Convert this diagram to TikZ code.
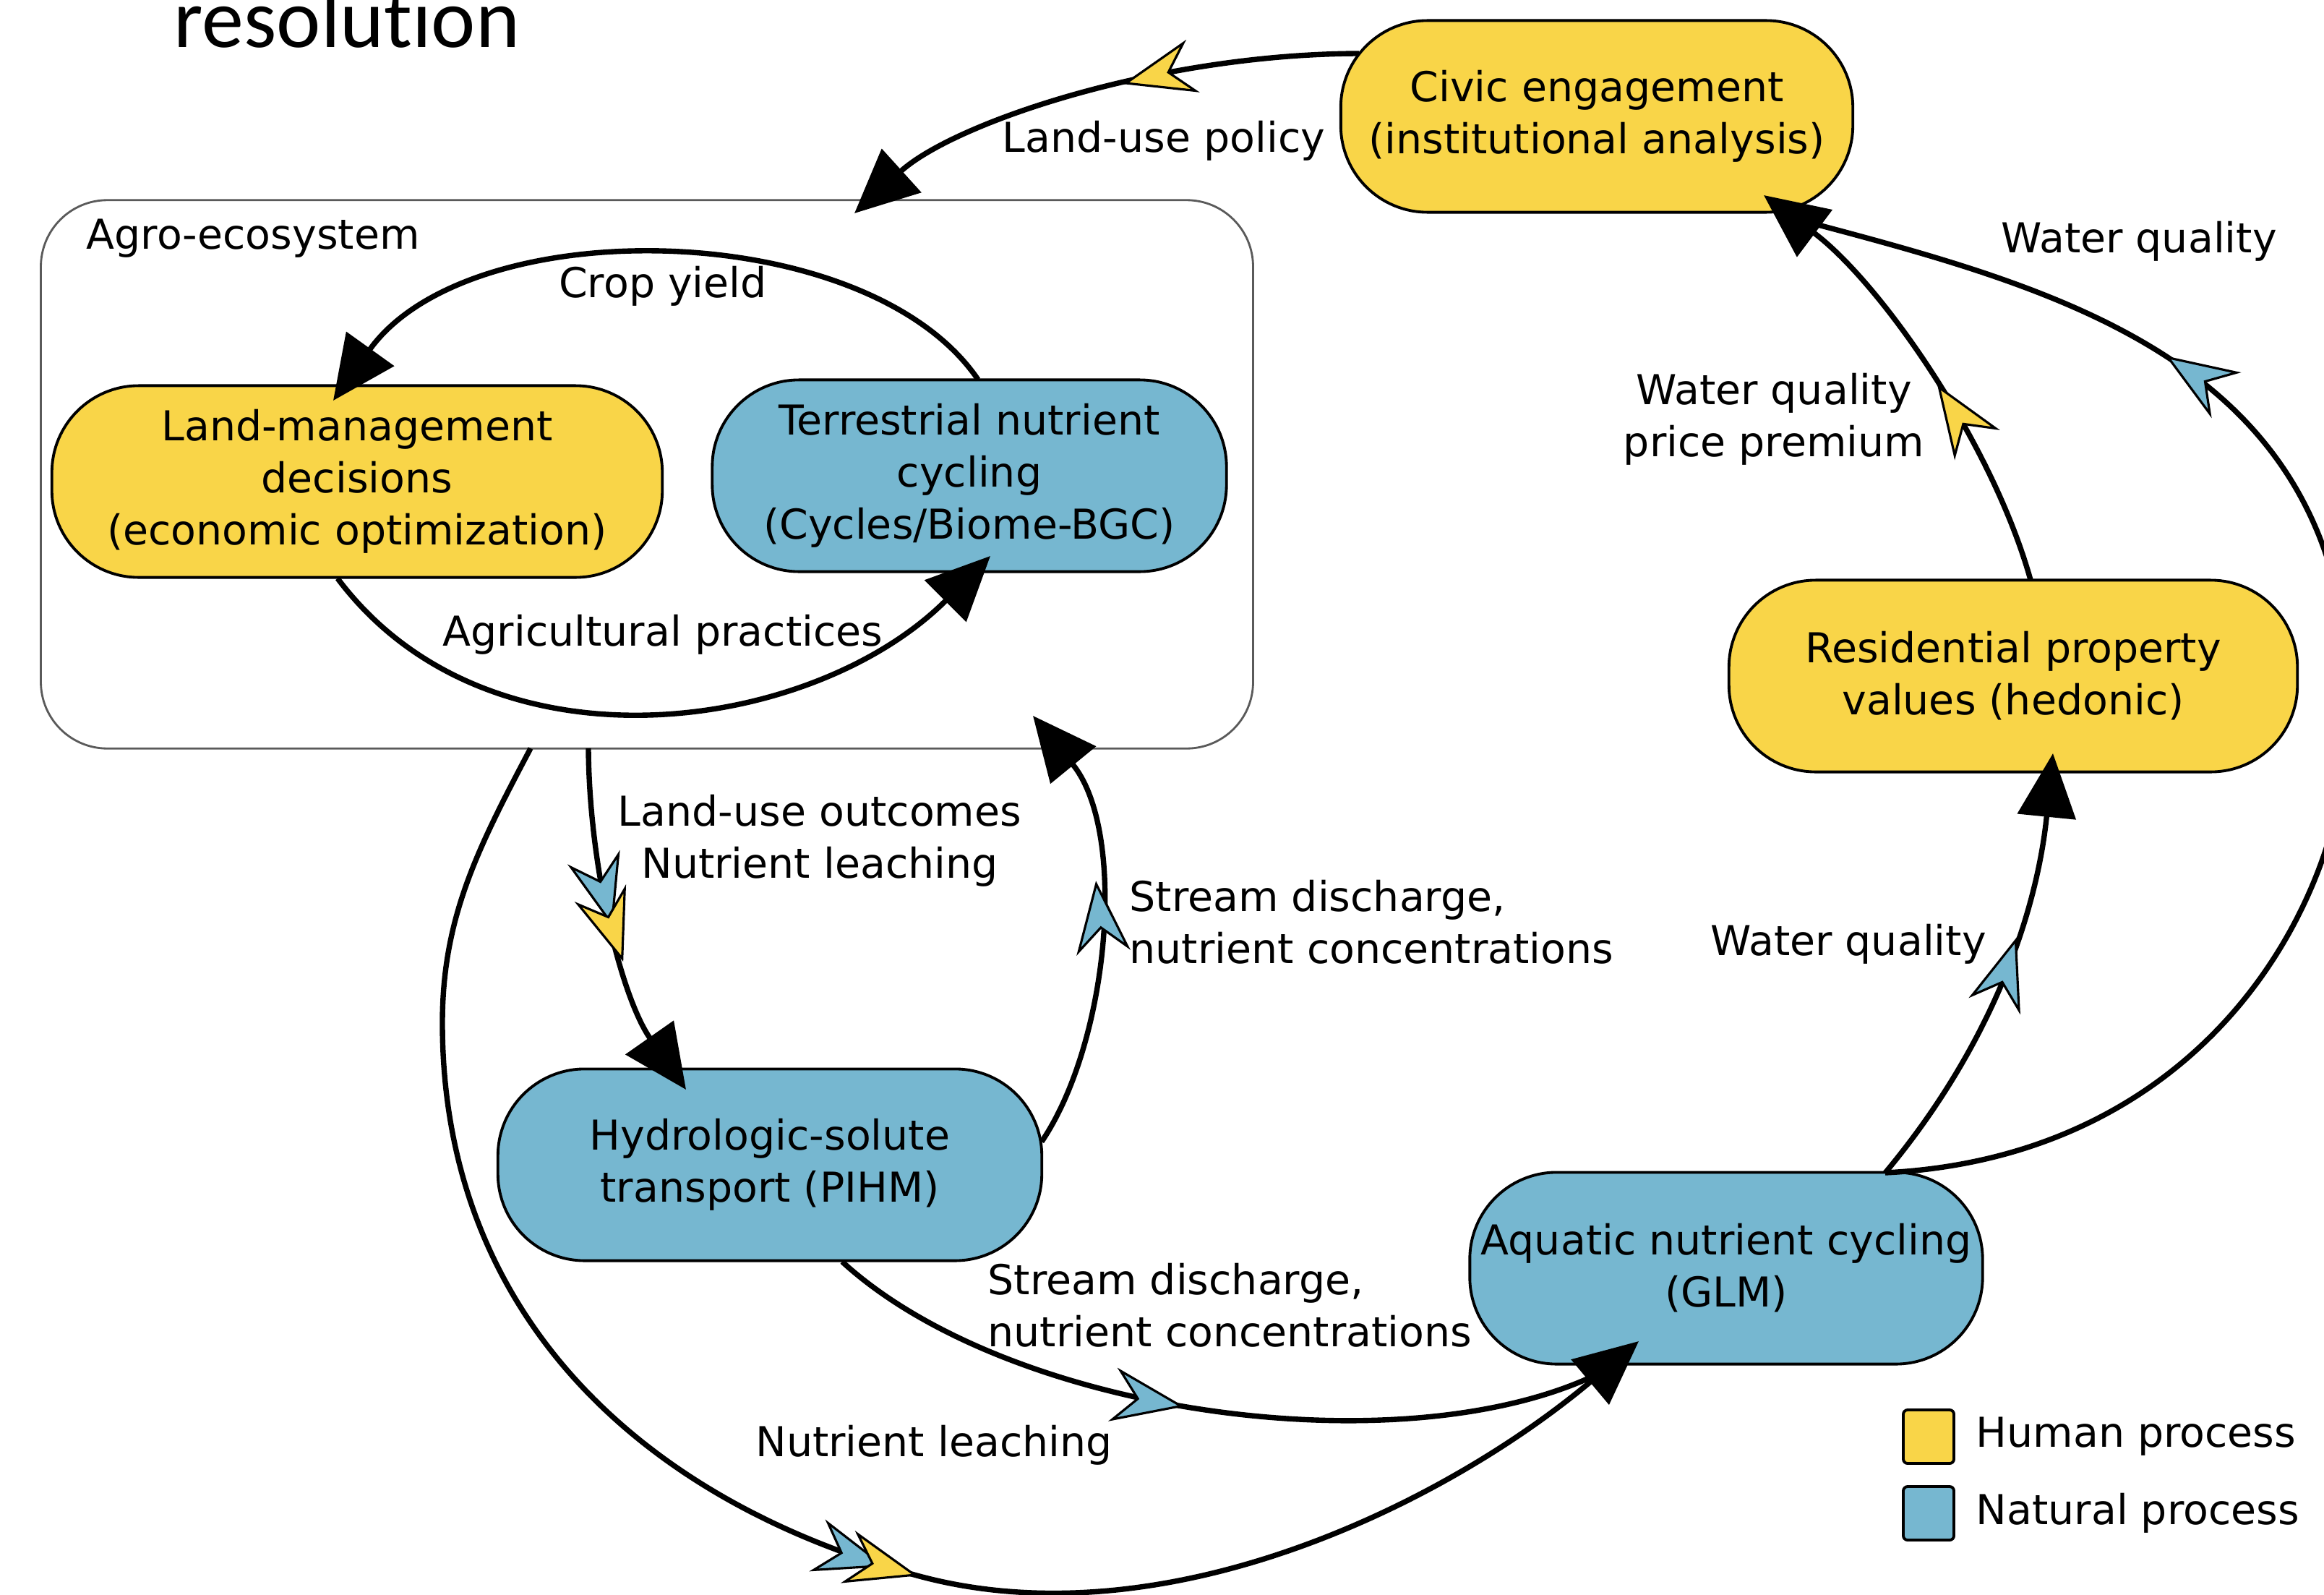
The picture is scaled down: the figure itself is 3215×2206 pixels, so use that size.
\documentclass[tikz,border=0pt]{standalone}
\usepackage{fontspec}
\setmainfont{DejaVu Sans}
\newfontfamily\titlefont[Ligatures={NoCommon,NoRare,NoDiscretionary}]{Carlito}
\usetikzlibrary{arrows.meta,decorations.markings,calc}
\definecolor{hy}{HTML}{F9D548}
\definecolor{nb}{HTML}{76B7D0}
\definecolor{agrogray}{HTML}{5A5A5A}
\newcommand\lbl{\fontsize{16.2pt}{20.5pt}\selectfont}
\begin{document}
\begin{tikzpicture}[x=0.01cm,y=-0.01cm,
  proc/.style={rectangle, rounded corners=1.2cm, draw=black, line width=1.1pt, minimum height=2.65cm, align=center, font=\lbl, inner sep=0pt},
  human/.style={proc, fill=hy},
  natural/.style={proc, fill=nb},
  lab/.style={font=\lbl, inner sep=0pt, align=center},
  flow/.style={line width=2.1pt, -{Triangle[length=0.88cm,width=0.8cm]}},
  flowplain/.style={line width=2.1pt},
  chevY/.tip={Stealth[length=1cm,width=0.75cm,inset=0.33cm,fill=hy,color=black,line width=0.9pt]},
  chevB/.tip={Stealth[length=1cm,width=0.75cm,inset=0.33cm,fill=nb,color=black,line width=0.9pt]},
  markY/.style={postaction={decorate,decoration={markings,mark=at position #1 with {\arrow{chevY}}}}},
  markB/.style={postaction={decorate,decoration={markings,mark=at position #1 with {\arrow{chevB}}}}},
  markBY/.style 2 args={postaction={decorate,decoration={markings,mark=at position #1 with {\arrow{chevB}},mark=at position #2 with {\arrow{chevY}}}}},
  legbox/.style={draw=black, line width=1.1pt, rounded corners=0.06cm, minimum width=0.7cm, minimum height=0.74cm, inner sep=0pt}
]
\path[use as bounding box, clip] (0,0) rectangle (3215,2206);

\node[anchor=base west, inner sep=0pt, font=\titlefont\fontsize{33pt}{36pt}\selectfont] (title) at (240,66) {resolution};

% container
\node[draw=agrogray, line width=0.8pt, rounded corners=0.92cm, minimum width=16.76cm, minimum height=7.58cm, inner sep=0pt] (agro) at (895,656) {};
\node[lab, anchor=west] (agrolab) at (119,330) {Agro-ecosystem};

% process nodes
\node[human, minimum width=7.08cm] (civic) at (2209,161) {Civic engagement\\(institutional analysis)};
\node[human, minimum width=8.44cm] (land) at (494,666) {Land-management\\decisions\\(economic optimization)};
\node[natural, minimum width=7.11cm] (terr) at (1341,658) {Terrestrial nutrient\\cycling\\(Cycles/Biome-BGC)};
\node[natural, minimum width=7.52cm] (hydro) at (1065,1611) {Hydrologic-solute\\transport (PIHM)};
\node[natural, minimum width=7.09cm] (aqua) at (2388,1754) {Aquatic nutrient cycling\\(GLM)};
\node[human, minimum width=7.86cm] (resid) at (2785,935) {Residential property\\values (hedonic)};

% connectors
\draw[flow, markY=3.3cm] ($(civic)+(-329,-87)$) .. controls (1600,75) and (1320,170) .. ($(agro)+(287,-361)$);
\draw[flow] ($(terr)+(12,-133)$) .. controls (1200,300) and (650,290) .. ($(land)+(-33,-112)$);
\draw[flow] ($(land)+(-27,134)$) .. controls (677,1080) and (1125,1014) .. ($(terr)+(29,111)$);
\draw[flow, markBY={2.5cm}{3.0cm}] ($(agro)+(-81,379)$) .. controls (815,1200) and (860,1380) .. ($(hydro)+(-116,-104)$);
\draw[flow, markB=3.75cm] ($(hydro)+(376,-32)$) .. controls (1535,1440) and (1560,1150) .. ($(agro)+(534,334)$);
\draw[flowplain, markB=5.2cm] ($(hydro)+(100,134)$) .. controls (1400,1960) and (1950,2030) .. ($(aqua)+(-173,144)$);
\draw[flow, markBY={14.5cm}{14.95cm}] ($(agro)+(-161,379)$) .. controls (660,1175) and (612,1270) .. (612,1415) .. controls (612,1815) and (884,2076) .. (1272,2180) .. controls (1612,2271) and (1999,2080) .. ($(aqua)+(-121,101)$);
\draw[flow, markB=3.75cm] ($(aqua)+(220,-132)$) .. controls (2768,1430) and (2820,1242) .. ($(resid)+(55,107)$);
\draw[flowplain, markB=15.8cm] ($(aqua)+(220,-132)$) .. controls (3050,1600) and (3250,1250) .. (3250,980) .. controls (3250,500) and (2850,400) .. ($(civic)+(276,142)$);
\draw[flow, markY=3.0cm] ($(resid)+(24,-133)$) .. controls (2755,610) and (2600,390) .. ($(civic)+(231,109)$);

% labels
\node[lab] (l1) at (1610,195) {Land-use policy};
\node[lab] (l2) at (917,396) {Crop yield};
\node[lab] (l3) at (917,878) {Agricultural practices};
\node[lab] (l4) at (1134,1163) {Land-use outcomes\\Nutrient leaching};
\node[lab, anchor=west, align=left] (l5) at (1562,1275) {Stream discharge,\\nutrient concentrations};
\node[lab, anchor=west, align=left] (l6) at (1366,1805) {Stream discharge,\\nutrient concentrations};
\node[lab] (l7) at (1292,1999) {Nutrient leaching};
\node[lab] (l8) at (2557,1306) {Water quality};
\node[lab] (l9) at (2454,580) {Water quality\\price premium};
\node[lab] (l10) at (2959,334) {Water quality};

% legend
\node[legbox, fill=hy] (legH) at (2668,1987) {};
\node[lab, anchor=west] (legHt) at (2733,1987) {Human process};
\node[legbox, fill=nb] (legN) at (2668,2093) {};
\node[lab, anchor=west] (legNt) at (2733,2093) {Natural process};
\end{tikzpicture}
\end{document}
